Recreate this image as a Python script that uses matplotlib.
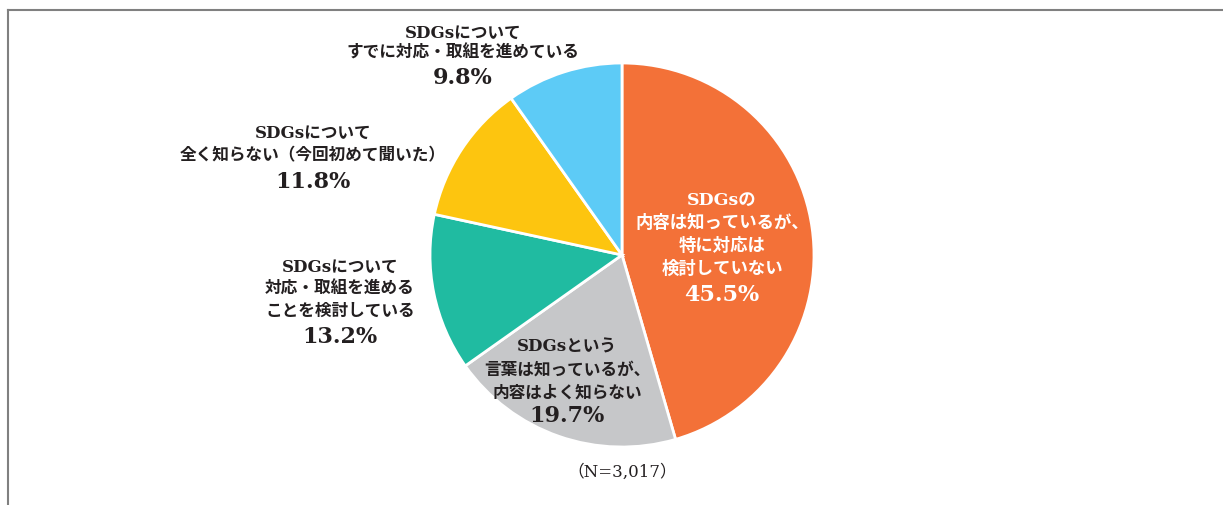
import matplotlib
matplotlib.use("Agg")
import matplotlib.pyplot as plt
from matplotlib.lines import Line2D

# ---- data ----
categories = [
    "SDGsの\n内容は知っているが、\n特に対応は\n検討していない",
    "SDGsという\n言葉は知っているが、\n内容はよく知らない",
    "SDGsについて\n対応・取組を進める\nことを検討している",
    "SDGsについて\n全く知らない（今回初めて聞いた）",
    "SDGsについて\nすでに対応・取組を進めている",
]
values = [45.5, 19.7, 13.2, 11.8, 9.8]
colors = ["#F37138", "#C6C7C9", "#20BBA1", "#FDC50F", "#5DCBF6"]
note = "（N=3,017）"

W, H = 1223, 506
fig = plt.figure(figsize=(W / 100, H / 100), dpi=100)
ax = fig.add_axes([0, 0, 1, 1])
ax.set_xlim(0, W)
ax.set_ylim(0, H)
ax.set_aspect("equal")
ax.axis("off")

cx, cy, r = 622, H - 256, 192
ax.pie(values, colors=colors, startangle=90, counterclock=False,
       center=(cx, cy), radius=r, frame=True,
       wedgeprops=dict(edgecolor="white", linewidth=2))
ax.set_xlim(0, W)
ax.set_ylim(0, H)
ax.axis("off")

jp_fam = ["DejaVu Serif", "Noto Sans CJK JP"]
dark = "#231F20"

# label layout: (x center, y of first line from top, line step, percent y from top, text colour, font size)
layout = [
    (722, 200, 23, 295, "white", 12.5),
    (567, 347, 23, 416, dark, 12),
    (340, 267, 22, 337, dark, 12),
    (313, 133, 23, 182, dark, 12),
    (463, 33, 20.5, 78, dark, 12),
]

for cat, val, (lx, ly, step, py, col, fs) in zip(categories, values, layout):
    for i, line in enumerate(cat.split("\n")):
        ax.text(lx, H - (ly + i * step), line, ha="center", va="center",
                family=jp_fam, fontweight="bold", fontsize=fs, color=col)
    ax.text(lx, H - py, f"{val}%", ha="center", va="center",
            family=["DejaVu Serif", "Noto Sans CJK JP"], fontweight="bold",
            fontsize=16, color=col)

ax.text(622, H - 472, note, ha="center", va="center",
        family=["DejaVu Serif", "Noto Sans CJK JP"], fontsize=12, color=dark)

# frame lines (top and left)
fig.add_artist(Line2D([8 / W, 1.0], [1 - 11 / H, 1 - 11 / H], color="#808080", lw=1.5,
                      transform=fig.transFigure))
fig.add_artist(Line2D([8 / W, 8 / W], [1 - 11 / H, 0.0], color="#808080", lw=1.5,
                      transform=fig.transFigure))

fig.savefig("out.png", dpi=100, facecolor="white")
